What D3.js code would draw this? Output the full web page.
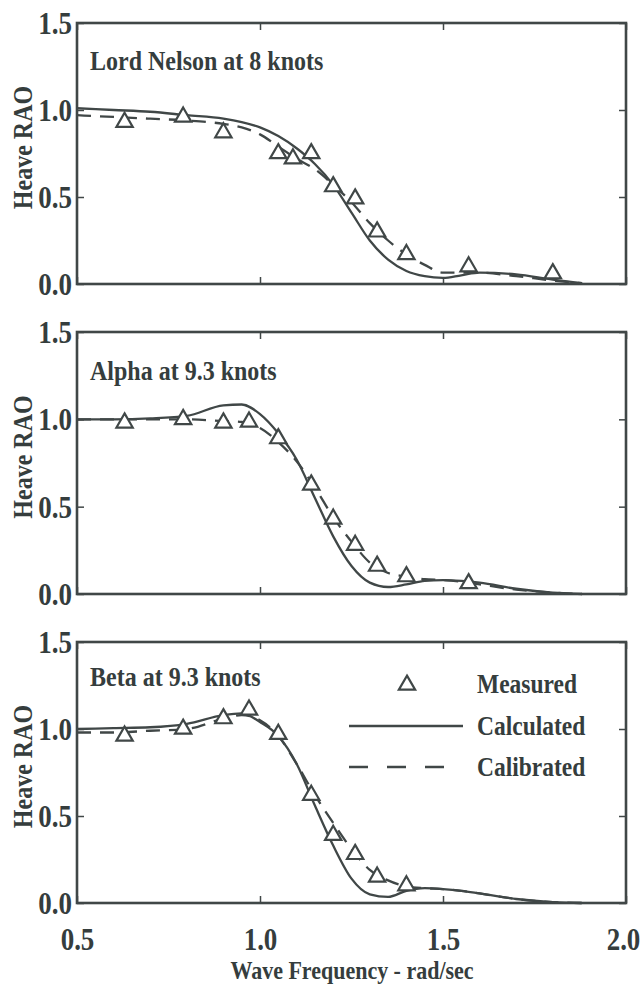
<!DOCTYPE html>
<html>
<head>
<meta charset="utf-8">
<script src="https://cdn.jsdelivr.net/npm/d3@7"></script>
<style>
  body { margin: 0; background: #fff; }
  text { font-family: "Liberation Serif", "Times New Roman", serif; font-weight: bold; fill: #353d3d; }
</style>
</head>
<body>
<div id="chart"></div>
<script>
// frequency grid (rad/sec) used for the two computed curves
const curveFreq = [0.5, 0.6, 0.7, 0.8, 0.9, 0.95, 1.0, 1.05, 1.1, 1.15, 1.2, 1.25, 1.3, 1.35, 1.4, 1.45, 1.5, 1.55, 1.6, 1.7, 1.8, 1.88];

// Lord Nelson at 8 knots
const nelsonCalculated = [1.01, 1.00, 0.99, 0.97, 0.95, 0.93, 0.90, 0.85, 0.78, 0.69, 0.57, 0.41, 0.25, 0.14, 0.075, 0.045, 0.035, 0.05, 0.065, 0.055, 0.025, 0.005];
const nelsonCalibrated = [0.97, 0.96, 0.95, 0.94, 0.92, 0.90, 0.86, 0.79, 0.72, 0.66, 0.57, 0.47, 0.35, 0.25, 0.17, 0.11, 0.065, 0.065, 0.065, 0.045, 0.02, 0.005];
const nelsonMeasuredFreq = [0.63, 0.79, 0.90, 1.05, 1.09, 1.14, 1.20, 1.26, 1.32, 1.40, 1.57, 1.80];
const nelsonMeasured = [0.93, 0.96, 0.87, 0.75, 0.72, 0.75, 0.56, 0.49, 0.30, 0.17, 0.10, 0.06];

// Alpha at 9.3 knots
const alphaCalculated = [1.00, 1.00, 1.005, 1.02, 1.08, 1.085, 1.03, 0.92, 0.77, 0.55, 0.33, 0.16, 0.065, 0.04, 0.055, 0.075, 0.08, 0.075, 0.065, 0.03, 0.008, 0.0];
const alphaCalibrated = [1.00, 1.00, 1.00, 1.00, 0.99, 0.985, 0.95, 0.87, 0.76, 0.61, 0.44, 0.30, 0.18, 0.12, 0.10, 0.085, 0.08, 0.07, 0.055, 0.025, 0.008, 0.0];
const alphaMeasuredFreq = [0.63, 0.79, 0.90, 0.97, 1.05, 1.14, 1.20, 1.26, 1.32, 1.40, 1.57];
const alphaMeasured = [0.98, 1.00, 0.98, 0.985, 0.89, 0.625, 0.43, 0.28, 0.16, 0.10, 0.06];

// Beta at 9.3 knots
const betaCalculated = [1.00, 1.005, 1.01, 1.03, 1.08, 1.09, 1.04, 0.96, 0.80, 0.56, 0.33, 0.14, 0.05, 0.035, 0.07, 0.085, 0.08, 0.07, 0.055, 0.023, 0.005, 0.0];
const betaCalibrated = [0.98, 0.98, 0.99, 1.00, 1.06, 1.08, 1.05, 0.96, 0.80, 0.62, 0.46, 0.31, 0.19, 0.13, 0.095, 0.085, 0.08, 0.07, 0.055, 0.023, 0.005, 0.0];
const betaMeasuredFreq = [0.63, 0.79, 0.90, 0.97, 1.05, 1.14, 1.20, 1.26, 1.32, 1.40];
const betaMeasured = [0.96, 1.00, 1.06, 1.11, 0.97, 0.62, 0.39, 0.28, 0.15, 0.10];

const panelTitles = ["Lord Nelson at 8 knots", "Alpha at 9.3 knots", "Beta at 9.3 knots"];
const yTicks = [0.0, 0.5, 1.0, 1.5];
const xTicks = [0.5, 1.0, 1.5, 2.0];
const legendLabels = ["Measured", "Calculated", "Calibrated"];

const panels = [
    { title: panelTitles[0], calc: nelsonCalculated, calib: nelsonCalibrated, mf: nelsonMeasuredFreq, m: nelsonMeasured },
    { title: panelTitles[1], calc: alphaCalculated, calib: alphaCalibrated, mf: alphaMeasuredFreq, m: alphaMeasured },
    { title: panelTitles[2], calc: betaCalculated, calib: betaCalibrated, mf: betaMeasuredFreq, m: betaMeasured }
];

// layout
var W = 641, H = 985;
var left = 77, right = 626;
var tops = [23, 332, 642], bottoms = [284, 594, 903];
var titleDy = [47, 48, 44];
var ink = "#404747";
var stretch = 1.15; // the scanned lettering is tall and narrow

var svg = d3.select("#chart").append("svg")
    .attr("width", W)
    .attr("height", H);

// text placed at (tx, ty) and stretched vertically
function label(sel, tx, ty, str, size) {
    return sel.append("text")
        .attr("transform", "translate(" + tx + "," + ty + ") scale(1," + stretch + ")")
        .style("font-size", size + "px")
        .text(str);
}

var x = d3.scaleLinear().domain([0.5, 2.0]).range([left, right]);

panels.forEach(function (p, i) {
    var y = d3.scaleLinear().domain([0, 1.5]).range([bottoms[i], tops[i]]);
    var g = svg.append("g");

    // inward ticks on all four sides
    var yl = g.append("g").attr("transform", "translate(" + left + ",0)")
        .call(d3.axisLeft(y).tickValues(yTicks).tickSizeInner(-7).tickSizeOuter(0).tickPadding(5).tickFormat(d3.format(".1f")));
    g.append("g").attr("transform", "translate(" + right + ",0)")
        .call(d3.axisRight(y).tickValues(yTicks).tickSizeInner(-7).tickSizeOuter(0).tickFormat(""));
    g.append("g").attr("transform", "translate(0," + tops[i] + ")")
        .call(d3.axisTop(x).tickValues(xTicks).tickSizeInner(-7).tickSizeOuter(0).tickFormat(""));
    var xb = g.append("g").attr("transform", "translate(0," + bottoms[i] + ")")
        .call(d3.axisBottom(x).tickValues(xTicks).tickSizeInner(-7).tickSizeOuter(0)
            .tickFormat(i == 2 ? d3.format(".1f") : ""));

    g.selectAll(".domain").remove();
    g.selectAll(".tick line").attr("stroke", ink).attr("stroke-width", 1.5);
    yl.selectAll("text").style("font-size", "27px").attr("fill", "#353d3d")
        .attr("dy", "0.34em").attr("transform", "scale(1," + stretch + ")");
    xb.selectAll("text").style("font-size", "27px").attr("fill", "#353d3d")
        .attr("y", 25 / stretch).attr("dy", "0.71em")
        .attr("x", function (d) { return d == 2 ? -3 : 0; })
        .attr("transform", "scale(1," + stretch + ")");

    // frame
    g.append("rect")
        .attr("x", left).attr("y", tops[i])
        .attr("width", right - left).attr("height", bottoms[i] - tops[i])
        .attr("fill", "none").attr("stroke", ink).attr("stroke-width", 2.6);

    var line = d3.line()
        .x(function (d, k) { return x(curveFreq[k]); })
        .y(function (d) { return y(d); })
        .curve(d3.curveMonotoneX);

    g.append("path").attr("d", line(p.calib))
        .attr("fill", "none").attr("stroke", ink).attr("stroke-width", 2.3)
        .attr("stroke-dasharray", "14,9");
    g.append("path").attr("d", line(p.calc))
        .attr("fill", "none").attr("stroke", ink).attr("stroke-width", 2.3);

    g.selectAll(".pt").data(p.m).enter().append("path")
        .attr("d", d3.symbol().type(d3.symbolTriangle).size(115))
        .attr("transform", function (d, k) { return "translate(" + x(p.mf[k]) + "," + y(d) + ")"; })
        .attr("fill", "#fff").attr("stroke", ink).attr("stroke-width", 2.2);

    label(g, 90, tops[i] + titleDy[i], p.title, 24);

    g.append("text")
        .attr("transform", "translate(32," + ((tops[i] + bottoms[i]) / 2 - 6) + ") rotate(-90) scale(1," + stretch + ")")
        .attr("text-anchor", "middle")
        .style("font-size", "24px")
        .text("Heave RAO");
});

// legend in the bottom panel
var lg = svg.append("g");
lg.append("path")
    .attr("d", d3.symbol().type(d3.symbolTriangle).size(115))
    .attr("transform", "translate(407,685)")
    .attr("fill", "#fff").attr("stroke", ink).attr("stroke-width", 2.2);
lg.append("line").attr("x1", 349).attr("x2", 463).attr("y1", 726).attr("y2", 726)
    .attr("stroke", ink).attr("stroke-width", 2.4);
lg.append("line").attr("x1", 349).attr("x2", 445).attr("y1", 767).attr("y2", 767)
    .attr("stroke", ink).attr("stroke-width", 2.4).attr("stroke-dasharray", "19,19");
legendLabels.forEach(function (d, k) {
    label(lg, 477, [693, 735, 776][k], d, 23.5);
});

label(svg, 352, 979, "Wave Frequency - rad/sec", 22).attr("text-anchor", "middle");
</script>
</body>
</html>
